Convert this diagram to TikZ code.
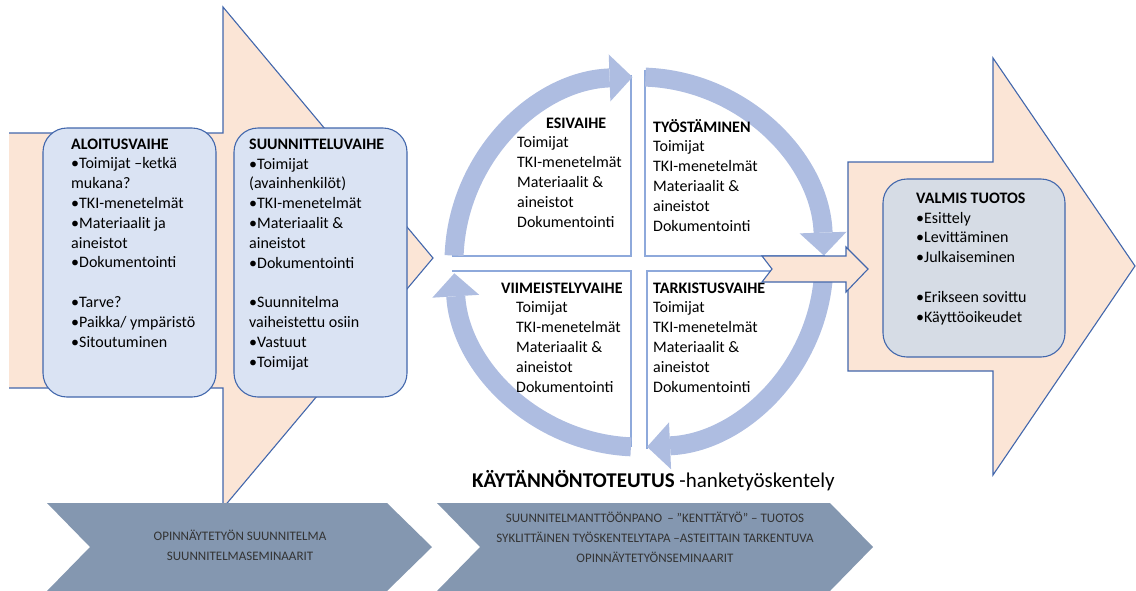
\documentclass[tikz,border=0pt]{standalone}
\usepackage{fontspec}
\setmainfont{Carlito}
\usepackage{tikz}
\usetikzlibrary{arrows.meta}
\definecolor{persikka}{HTML}{FBE5D6}
\definecolor{reuna}{HTML}{4267AC}
\definecolor{vaalea}{HTML}{DAE3F3}
\definecolor{harmaasini}{HTML}{D6DCE5}
\definecolor{rengas}{HTML}{AEBDE1}
\definecolor{viiva}{HTML}{8EA9DB}
\definecolor{harmaa}{HTML}{8497B0}
\definecolor{tumma}{HTML}{333333}

\begin{document}
\begin{tikzpicture}[
    x=1pt, y=-1pt,
    >={Triangle[length=23pt,width=47pt,line width=0pt]},
    nuoli/.style={fill=persikka, draw=reuna, line width=1.1pt},
    laatikko/.style={fill=vaalea, draw=reuna, line width=1.1pt, rounded corners=24pt},
    kierto/.style={->, draw=rengas, line width=19pt},
    raja/.style={draw=viiva, line width=1.3pt},
    lista/.style={anchor=base west, inner sep=0pt, align=left,
        font=\fontsize{16}{19.8}\selectfont},
    nuolitxt/.style={anchor=base, inner sep=0pt, align=center, text=tumma,
        font=\fontsize{13}{20}\selectfont},
]
\useasboundingbox (0,0) rectangle (1136,590);

% Vasen nuoli
\fill[persikka] (9,133) -- (223,133) -- (223,7) -- (433,258)
    -- (223,508) -- (223,388) -- (9,388) -- cycle;
\draw[reuna, line width=1.1pt] (9,133) -- (223,133) -- (223,7) -- (433,258)
    -- (223,508) -- (223,388) -- (9,388);

% Vaiheet (tekstin paikka = viimeisen rivin perusviiva)
\draw[laatikko] (43,128) rectangle (216,397);
\draw[laatikko] (234,128) rectangle (407,397);

\node[lista] (aloitus) at (71,347) {\textbf{ALOITUSVAIHE}\\•Toimijat –ketkä\\mukana?\\•TKI-menetelmät\\•Materiaalit ja\\aineistot\\•Dokumentointi\\[19.8pt]•Tarve?\\•Paikka/ ympäristö\\•Sitoutuminen};
\node[lista] (suunnittelu) at (249,367) {\textbf{SUUNNITTELUVAIHE}\\•Toimijat\\(avainhenkilöt)\\•TKI-menetelmät\\•Materiaalit \&\\aineistot\\•Dokumentointi\\[19.8pt]•Suunnitelma\\vaiheistettu osiin\\•Vastuut\\•Toimijat};

% Neljannekset
\draw[raja] (452,256) -- (631,256) -- (631,75);
\draw[raja] (645,70) -- (645,256) -- (825,256);
\draw[raja] (452,271) -- (631,271) -- (631,447);
\draw[raja] (647,449) -- (647,271) -- (830,271);

% Kierto
\coordinate (keski) at (639,262);
\draw[kierto] ([shift={(182:185)}]keski) arc[start angle=182, end angle=268, radius=185];
\draw[kierto] ([shift={(272:185)}]keski) arc[start angle=272, end angle=358, radius=185];
\draw[kierto] ([shift={(2.5:185)}]keski) arc[start angle=2.5, end angle=87.5, radius=185];
\draw[kierto] ([shift={(92.5:185)}]keski) arc[start angle=92.5, end angle=176.5, radius=185];

\node[lista, font=\fontsize{16}{19.8}\selectfont\bfseries] (esi) at (546,128) {ESIVAIHE};
\node[lista] (esilista) at (517,227) {Toimijat\\TKI-menetelmät\\Materiaalit \&\\aineistot\\Dokumentointi};
\node[lista] (tyosto) at (653,231) {\textbf{TYÖSTÄMINEN}\\Toimijat\\TKI-menetelmät\\Materiaalit \&\\aineistot\\Dokumentointi};
\node[lista, font=\fontsize{16}{19.8}\selectfont\bfseries] (viim) at (501,293) {VIIMEISTELYVAIHE};
\node[lista] (viimlista) at (516,392) {Toimijat\\TKI-menetelmät\\Materiaalit \&\\aineistot\\Dokumentointi};
\node[lista] (tark) at (653,392) {\textbf{TARKISTUSVAIHE}\\Toimijat\\TKI-menetelmät\\Materiaalit \&\\aineistot\\Dokumentointi};

\node[anchor=base west, inner sep=0pt, font=\fontsize{21}{24}\selectfont] (toteutus)
    at (472,487) {\textbf{KÄYTÄNNÖNTOTEUTUS} -hanketyöskentely};

% Oikea nuoli
\draw[nuoli] (848,162) -- (993,162) -- (993,58) -- (1135,266)
    -- (993,475) -- (993,371) -- (848,371) -- cycle;
\draw[laatikko, fill=harmaasini] (883,179) rectangle (1065,357);
\node[lista] (valmis) at (916,322) {\textbf{VALMIS TUOTOS}\\•Esittely\\•Levittäminen\\•Julkaiseminen\\[19.8pt]•Erikseen sovittu\\•Käyttöoikeudet};

% Pieni nuoli
\draw[nuoli] (762,256) -- (846,256) -- (846,247) -- (868,269)
    -- (846,292) -- (846,282) -- (762,282) -- (772,269) -- cycle;

% Alanuolet
\fill[harmaa] (47,503) -- (387,503) -- (432,547) -- (387,591)
    -- (47,591) -- (90,547) -- cycle;
\fill[harmaa] (437,503) -- (830,503) -- (873,547) -- (830,591)
    -- (437,591) -- (480,547) -- cycle;
\node[nuolitxt] (suunnitelma) at (240,560) {OPINNÄYTETYÖN SUUNNITELMA\\SUUNNITELMASEMINAARIT};
\node[nuolitxt] (kenttatyo) at (655,562) {SUUNNITELMANTTÖÖNPANO \,– ”KENTTÄTYÖ” – TUOTOS\\SYKLITTÄINEN TYÖSKENTELYTAPA –ASTEITTAIN TARKENTUVA\\OPINNÄYTETYÖNSEMINAARIT};

\end{tikzpicture}
\end{document}
